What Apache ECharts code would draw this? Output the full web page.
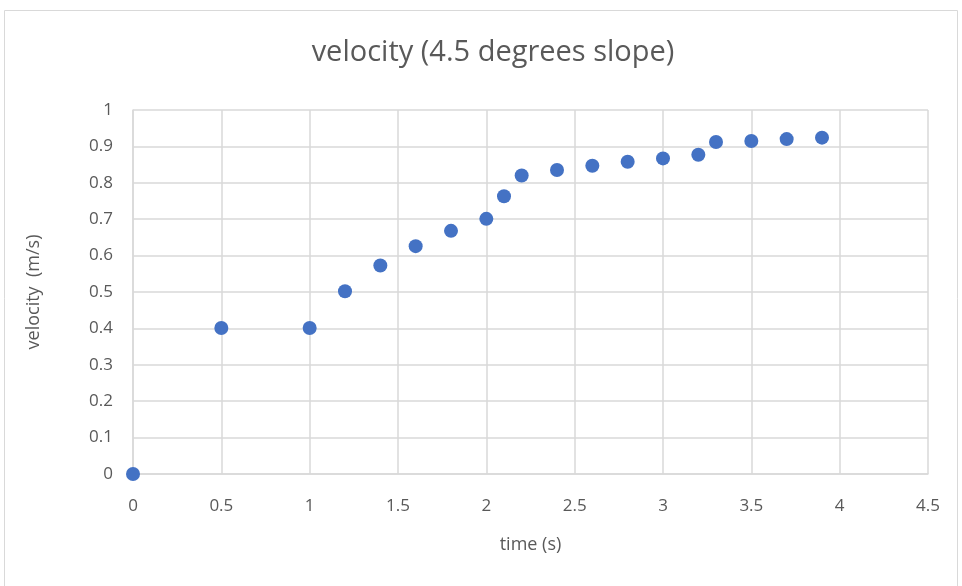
<!DOCTYPE html>
<html>
<head>
<meta charset="utf-8">
<script src="https://cdn.jsdelivr.net/npm/echarts@6/dist/echarts.min.js"></script>
<style>
html,body{margin:0;padding:0;background:#fff;}
#chart{width:962px;height:586px;}
</style>
</head>
<body>
<div id="chart"></div>
<script>
// time (s) and velocity (m/s)
var time_data = [0, 0.5, 1, 1.2, 1.4, 1.6, 1.8, 2.0, 2.1, 2.2, 2.4, 2.6, 2.8, 3.0, 3.2, 3.3, 3.5, 3.7, 3.9];
var vel_data = [0, 0.401, 0.401, 0.502, 0.573, 0.626, 0.668, 0.701, 0.763, 0.820, 0.835, 0.847, 0.858, 0.867, 0.877, 0.912, 0.915, 0.920, 0.924];

var points = [];
for (var i = 0; i < time_data.length; i++) {
    points.push([time_data[i], vel_data[i]]);
}

var chart = echarts.init(document.getElementById('chart'));
var font = '"Open Sans", "Liberation Sans", sans-serif';
var option = {
    animation: false,
    title: {
        text: 'velocity (4.5 degrees slope)',
        left: 488, top: 33, textAlign: 'center',
        textStyle: {fontFamily: font, fontWeight: 'normal', fontSize: 29, color: '#595959'}
    },
    graphic: [{
        type: 'rect',
        shape: {x: 4.5, y: 10.5, width: 953, height: 600},
        style: {fill: 'none', stroke: '#d9d9d9', lineWidth: 1}
    }],
    grid: {left: 133, right: 34, top: 110, bottom: 112},
    xAxis: {
        type: 'value', min: 0, max: 4.5, interval: 0.5,
        name: 'time (s)', nameLocation: 'middle', nameGap: 62,
        nameTextStyle: {fontFamily: font, fontSize: 18, color: '#595959'},
        axisLine: {show: true, lineStyle: {color: '#d9d9d9', width: 1.5}},
        axisTick: {show: false},
        axisLabel: {fontFamily: font, fontSize: 17, color: '#595959', margin: 24},
        splitLine: {show: true, lineStyle: {color: '#d9d9d9', width: 1.5}}
    },
    yAxis: {
        type: 'value', min: 0, max: 1, interval: 0.1,
        name: 'velocity  (m/s)', nameLocation: 'middle', nameGap: 90,
        nameTextStyle: {fontFamily: font, fontSize: 18, color: '#595959'},
        axisLine: {show: true, lineStyle: {color: '#d9d9d9', width: 1.5}},
        axisTick: {show: false},
        axisLabel: {fontFamily: font, fontSize: 17, color: '#595959', margin: 20},
        splitLine: {show: true, lineStyle: {color: '#d9d9d9', width: 1.5}}
    },
    series: [{
        type: 'scatter',
        data: points,
        symbol: 'circle',
        symbolSize: 14,
        itemStyle: {color: '#4472c4', opacity: 1}
    }]
};
chart.setOption(option);
</script>
</body>
</html>
